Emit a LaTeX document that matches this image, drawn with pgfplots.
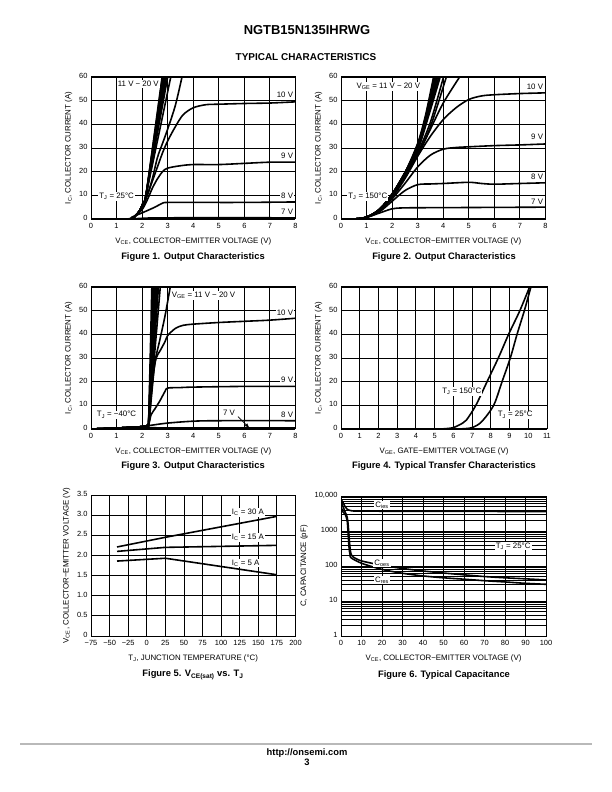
\documentclass[border=0pt]{standalone}
\usepackage{fontspec}
\setmainfont{Liberation Sans}
\usepackage{pgfplots}
\pgfplotsset{compat=1.18}
\newcommand{\sm}{\fontsize{7.9}{8.5}\selectfont}
\newcommand{\tk}{\fontsize{7.5}{8}\selectfont}
\newcommand{\capf}{\fontsize{9.4}{11}\selectfont\bfseries}
\pgfplotsset{
  ds/.style={
    scale only axis, width=204.5bp, height=142bp, anchor=south west,
    axis line style={line width=1pt},
    grid=major, major grid style={black, line width=0.9pt},
    major tick length=0pt, minor tick length=0pt,
    tick label style={font=\tk}, label style={font=\sm},
    typeset ticklabels with strut,
    /pgf/number format/assume math mode=true,
    cycle list={black,line width=1.6pt,mark=none,smooth\\},
  },
}
\tikzset{lab/.style={font=\sm, fill=white, inner sep=1pt}}
% steep curves, VGE = 12 ... 20 V
\newcommand{\bA}[1]{\addplot coordinates {(0,0)(1.5,0)(1.7,1)(1.9,3.5)(2.05,7)(2.15,10)(#1,60)};}
\newcommand{\bB}[3]{\addplot coordinates {(0,0)(0.5,0)(1,0.8)(1.5,4)(2,10.5)(2.5,19.5)(3,#1)(#2,44)(#3,60)};}
\newcommand{\bC}[1]{\addplot coordinates {(0,0)(1,0.4)(2,1)(2.2,1.5)(2.25,2)(#1,60)};}
\begin{document}
\begin{tikzpicture}
\useasboundingbox (0,0) rectangle (612bp,792bp);
\fill[white] (0,0) rectangle (612bp,792bp);

\node[font=\fontsize{13}{15}\selectfont\bfseries] at (307bp,762bp) {NGTB15N135IHRWG};
\node[font=\fontsize{10}{12}\selectfont\bfseries] at (306bp,735bp) {TYPICAL CHARACTERISTICS};

% Figure 1
\begin{axis}[ds, at={(91bp,573bp)}, xmin=0, xmax=8, ymin=0, ymax=60,
  xtick={0,...,8}, ytick={0,10,...,60},
  xlabel={V\textsubscript{CE}, COLLECTOR−EMITTER VOLTAGE (V)},
  ylabel={I\textsubscript{C}, COLLECTOR CURRENT (A)}]
\addplot coordinates {(0,0)(1.5,0)(2,0.3)(3,0.5)(8,0.5)};
\addplot coordinates {(0,0)(1.4,0)(1.6,0.8)(2,2.6)(2.5,5)(2.8,6.7)(3,7)(4,7)(6,7)(8,7.2)};
\addplot coordinates {(0,0)(1.5,0)(1.7,1)(2,4)(2.2,8)(2.4,13)(2.6,17)(2.8,20)(3,21.5)(3.5,22.5)(4,23)(5,23)(6,23.5)(7,24)(8,24)};
\addplot coordinates {(0,0)(1.5,0)(1.8,2)(2,5)(2.2,10)(2.4,16)(2.6,22)(2.8,28)(3,33)(3.3,39)(3.6,44)(4,47)(4.5,48.3)(5,48.5)(6,48.8)(7,49)(8,49.5)};
\addplot coordinates {(0,0)(1.5,0)(1.8,2)(2,5)(2.2,10)(2.4,17)(2.6,26)(2.8,32)(3,38)(3.3,48)(3.56,60)};
\bA{3.12}\bA{3.0}\bA{2.95}\bA{2.91}\bA{2.88}\bA{2.85}\bA{2.83}\bA{2.80}\bA{2.78}
\node[lab] at (axis cs:1.85,57) {11 V − 20 V};
\node[lab, anchor=east] at (axis cs:7.95,52.3) {10 V};
\node[lab, anchor=east] at (axis cs:7.95,26.6) {9 V};
\node[lab, anchor=east] at (axis cs:7.95,9.6) {8 V};
\node[lab, anchor=east] at (axis cs:7.95,2.9) {7 V};
\node[lab] at (axis cs:1.0,9.6) {T\textsubscript{J} = 25°C};
\end{axis}

% Figure 2
\begin{axis}[ds, at={(341bp,573bp)}, xmin=0, xmax=8, ymin=0, ymax=60,
  xtick={0,...,8}, ytick={0,10,...,60},
  xlabel={V\textsubscript{CE}, COLLECTOR−EMITTER VOLTAGE (V)},
  ylabel={I\textsubscript{C}, COLLECTOR CURRENT (A)}]
\addplot coordinates {(0,0)(0.5,0)(1,0.7)(1.5,2.5)(2,4.3)(2.5,4.7)(4,4.8)(8,5)};
\addplot coordinates {(0,0)(0.5,0)(1,0.7)(1.5,3)(2,7.5)(2.5,12)(3,14.5)(3.5,14.8)(4,15)(5,15.5)(5.5,15)(6,14.7)(7,15)(8,15.3)};
\addplot coordinates {(0,0)(0.5,0)(1,0.7)(1.5,3.5)(2,8.5)(2.5,15)(3,22)(3.5,27)(4,29.5)(4.5,30.2)(5,30.5)(6,31)(7,31.3)(8,31.7)};
\addplot coordinates {(0,0)(0.5,0)(1,0.7)(1.5,3.5)(2,9)(2.5,17)(3,26.5)(3.5,35)(4,42)(4.5,47)(5,50.5)(5.5,52)(6,52.5)(7,53)(8,53.3)};
\addplot coordinates {(0,0)(0.5,0)(1,0.8)(1.5,4)(2,10)(2.5,18)(3,27)(3.5,38)(4,49)(4.64,60)};
\addplot coordinates {(0,0)(0.5,0)(1,0.8)(1.5,4)(2,10)(2.5,18)(3,27)(3.5,39)(4.12,60)};
\addplot coordinates {(0,0)(0.5,0)(1,0.8)(1.5,4)(2,10)(2.5,18.5)(3,28)(3.5,41)(4.01,60)};
\bB{29}{3.44}{3.88}\bB{29.5}{3.415}{3.83}\bB{30}{3.39}{3.78}\bB{30.5}{3.37}{3.74}
\bB{31}{3.35}{3.70}\bB{31.5}{3.33}{3.66}\bB{32}{3.31}{3.62}
\node[lab] at (axis cs:1.85,56) {V\textsubscript{GE} = 11 V − 20 V};
\node[lab, anchor=east] at (axis cs:7.95,56) {10 V};
\node[lab, anchor=east] at (axis cs:7.95,34.8) {9 V};
\node[lab, anchor=east] at (axis cs:7.95,17.7) {8 V};
\node[lab, anchor=east] at (axis cs:7.95,7.3) {7 V};
\node[lab] at (axis cs:1.05,9.5) {T\textsubscript{J} = 150°C};
\end{axis}

% Figure 3
\begin{axis}[ds, at={(91bp,363bp)}, xmin=0, xmax=8, ymin=0, ymax=60,
  xtick={0,...,8}, ytick={0,10,...,60},
  xlabel={V\textsubscript{CE}, COLLECTOR−EMITTER VOLTAGE (V)},
  ylabel={I\textsubscript{C}, COLLECTOR CURRENT (A)}]
\addplot coordinates {(0,0)(1,0.2)(2.2,0.5)(3,0.5)(8,0.5)};
\addplot coordinates {(0,0)(1,0.3)(2,1)(2.3,1.5)(3,2.5)(4,3.3)(5,3.5)(8,3.5)};
\addplot coordinates {(0,0)(1,0.4)(2,1)(2.25,2)(2.35,6)(2.5,8.5)(2.7,12)(2.9,16)(3,17.3)(3.5,17.5)(4,17.7)(6,18)(8,18)};
\addplot coordinates {(0,0)(1,0.4)(2,1)(2.25,2)(2.35,14)(2.45,24)(2.55,30)(2.7,33)(2.9,37)(3,39.5)(3.3,42.5)(3.6,43.8)(4,44.3)(5,45)(6,45.5)(7,46)(8,46.8)};
\addplot coordinates {(0,0)(1,0.4)(2,1)(2.25,2)(2.35,12)(2.5,28)(2.7,38)(2.9,48)(3.1,60)};
\bC{2.71}\bC{2.64}\bC{2.60}\bC{2.56}\bC{2.52}\bC{2.48}\bC{2.45}\bC{2.42}\bC{2.38}
\draw[line width=0.7pt, -latex] (axis cs:5.75,5.2) -- (axis cs:6.2,0.4);
\node[lab] at (axis cs:4.4,56.5) {V\textsubscript{GE} = 11 V − 20 V};
\node[lab, anchor=east] at (axis cs:7.95,49.2) {10 V};
\node[lab, anchor=east] at (axis cs:7.95,20.7) {9 V};
\node[lab, anchor=east] at (axis cs:7.95,6.0) {8 V};
\node[font=\sm, inner sep=1pt] at (axis cs:5.4,6.7) {7 V};
\node[lab] at (axis cs:1.0,6.0) {T\textsubscript{J} = −40°C};
\end{axis}

% Figure 4
\begin{axis}[ds, at={(341bp,363bp)}, width=206bp, xmin=0, xmax=11, ymin=0, ymax=60,
  xtick={0,...,11}, ytick={0,10,...,60},
  xlabel={V\textsubscript{GE}, GATE−EMITTER VOLTAGE (V)},
  ylabel={I\textsubscript{C}, COLLECTOR CURRENT (A)}]
\addplot coordinates {(0,0)(5,0)(5.5,0.1)(6,0.6)(6.5,2.5)(6.7,3.8)(7.2,10)(7.8,20)(8.4,30)(8.95,40)(9.55,50)(10.07,60)};
\addplot coordinates {(0,0)(6,0)(6.5,0.1)(7,0.6)(7.5,3)(8.15,10)(8.6,20)(9.04,30)(9.4,40)(9.79,50)(10.14,60)};
\node[lab] at (axis cs:6.45,15.8) {T\textsubscript{J} = 150°C};
\node[lab] at (axis cs:9.3,6) {T\textsubscript{J} = 25°C};
\end{axis}

% Figure 5
\begin{axis}[ds, at={(91bp,156bp)}, height=141bp, xmin=-75, xmax=200, ymin=0, ymax=3.5,
  xtick={-75,-50,-25,0,25,50,75,100,125,150,175,200},
  xticklabels={−75,−50,−25,0,25,50,75,100,125,150,175,200},
  ytick={0,0.5,1,1.5,2,2.5,3,3.5},
  yticklabels={0,0.5,1.0,1.5,2.0,2.5,3.0,3.5},
  xlabel={T\textsubscript{J}, JUNCTION TEMPERATURE (°C)},
  ylabel={V\textsubscript{CE}, COLLECTOR−EMITTER VOLTAGE (V)}]
\addplot[black, line width=1.6pt] coordinates {(-40,2.21)(25,2.45)(175,2.97)};
\addplot[black, line width=1.6pt] coordinates {(-40,2.10)(25,2.20)(175,2.25)};
\addplot[black, line width=1.6pt] coordinates {(-40,1.86)(25,1.93)(175,1.52)};
\node[lab] at (axis cs:136,3.07) {I\textsubscript{C} = 30 A};
\node[lab] at (axis cs:136,2.44) {I\textsubscript{C} = 15 A};
\node[lab] at (axis cs:133,1.81) {I\textsubscript{C} = 5 A};
\end{axis}

% Figure 6
\begin{axis}[ds, at={(341bp,156bp)}, height=140bp, width=205bp, ymode=log,
  xmin=0, xmax=100, ymin=1, ymax=10000,
  xtick={0,10,...,100}, ytick={1,10,100,1000,10000},
  yticklabels={1,10,100,1000,{10,000}},
  grid=both, minor grid style={black, line width=0.8pt},
  xlabel={V\textsubscript{CE}, COLLECTOR−EMITTER VOLTAGE (V)},
  ylabel={C, CAPACITANCE (pF)}]
\addplot coordinates {(0,8000)(1,6500)(2,5000)(3,4200)(5,3800)(10,3700)(40,3650)(100,3600)};
\addplot coordinates {(0,7000)(1,5000)(2,3500)(3,2500)(3.5,1500)(4,600)(4.5,300)(5,210)(6,180)(10,140)(20,105)(30,85)(40,72)(50,63)(60,56)(70,50)(80,46)(90,43)(100,40)};
\addplot coordinates {(0,5000)(1,3500)(2,3000)(3,2000)(3.5,800)(4,300)(4.5,200)(5,170)(10,120)(20,80)(30,62)(40,52)(50,46)(60,42)(70,38)(80,35)(90,32)(100,30)};
\node[lab] at (axis cs:20,5500) {C\textsubscript{ies}};
\node[lab] at (axis cs:20,123) {C\textsubscript{oes}};
\node[lab] at (axis cs:20,40) {C\textsubscript{res}};
\node[lab] at (axis cs:84,372) {T\textsubscript{J} = 25°C};
\end{axis}

\node[font=\capf] at (193bp,535bp) {Figure 1. Output Characteristics};
\node[font=\capf] at (444bp,535bp) {Figure 2. Output Characteristics};
\node[font=\capf] at (193bp,326bp) {Figure 3. Output Characteristics};
\node[font=\capf] at (444bp,326bp) {Figure 4. Typical Transfer Characteristics};
\node[font=\capf] at (193bp,117bp) {Figure 5. V\textsubscript{CE(sat)} vs. T\textsubscript{J}};
\node[font=\capf] at (444bp,117bp) {Figure 6. Typical Capacitance};

\draw[gray!55, line width=1.5pt] (20bp,48bp) -- (592bp,48bp);
\node[font=\fontsize{9.4}{11}\selectfont\bfseries] at (307bp,39bp) {http://onsemi.com};
\node[font=\fontsize{9.4}{11}\selectfont\bfseries] at (307bp,29.5bp) {3};
\end{tikzpicture}
\end{document}
